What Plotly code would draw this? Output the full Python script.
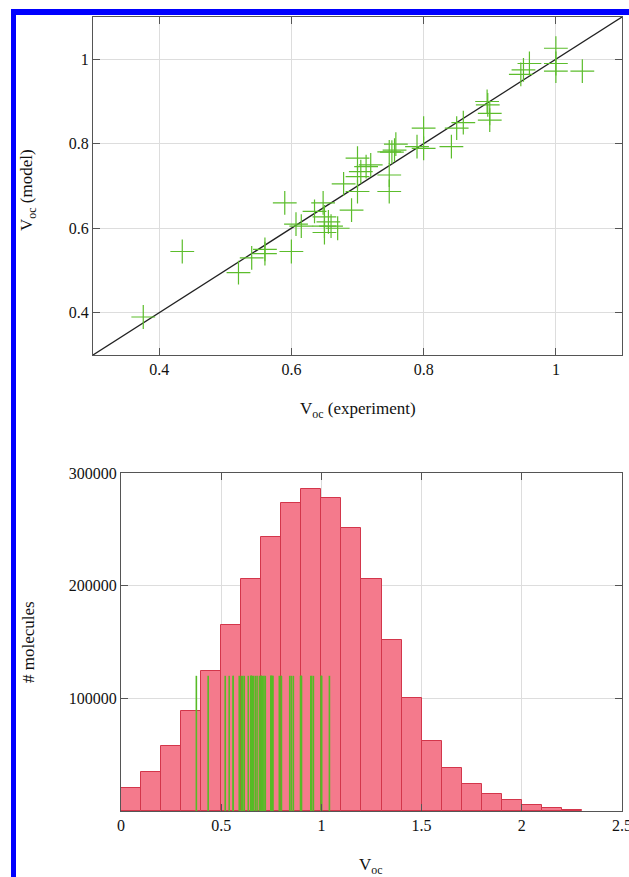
import plotly.graph_objects as go

# ---------------- data ----------------
# Top panel: V_oc experiment vs model
voc_exp = [0.376, 0.435, 0.52, 0.54, 0.56, 0.56, 0.59, 0.60, 0.607, 0.615,
           0.635, 0.648, 0.65, 0.65, 0.65, 0.656, 0.66, 0.67, 0.679, 0.691,
           0.70, 0.70, 0.70, 0.705, 0.713, 0.72, 0.748, 0.752, 0.748, 0.748,
           0.756, 0.758, 0.79, 0.80, 0.80, 0.842, 0.85, 0.86, 0.897, 0.90,
           0.90, 0.896, 0.947, 0.951, 0.96, 1.0, 1.0, 1.0, 1.04]
voc_model = [0.39, 0.545, 0.495, 0.53, 0.55, 0.54, 0.66, 0.545, 0.61, 0.605,
             0.64, 0.66, 0.627, 0.605, 0.59, 0.615, 0.605, 0.60, 0.705, 0.643,
             0.766, 0.722, 0.687, 0.734, 0.746, 0.75, 0.781, 0.78, 0.726, 0.687,
             0.785, 0.799, 0.793, 0.837, 0.789, 0.793, 0.837, 0.85, 0.892, 0.872,
             0.856, 0.90, 0.964, 0.975, 0.99, 1.026, 0.99, 0.972, 0.972]
diag = [0.3, 1.1]

# Bottom panel: histogram of predicted V_oc
bin_centers = [0.05, 0.15, 0.25, 0.35, 0.45, 0.55, 0.65, 0.75, 0.85, 0.95,
               1.05, 1.15, 1.25, 1.35, 1.45, 1.55, 1.65, 1.75, 1.85, 1.95,
               2.05, 2.15, 2.25]
counts = [20000, 35000, 58000, 88500, 124000, 165000, 206000, 243000, 273000, 285500,
          278000, 251000, 206000, 152000, 100000, 62000, 38000, 24000, 14800, 9500,
          5300, 2700, 1200]
impulse_height = 120000

top_xticks = [0.4, 0.6, 0.8, 1.0]
top_xtext = ["0.4", "0.6", "0.8", "1"]
top_yticks = [0.4, 0.6, 0.8, 1.0]
top_ytext = ["0.4", "0.6", "0.8", "1"]
bot_xticks = [0, 0.5, 1, 1.5, 2, 2.5]
bot_xtext = ["0", "0.5", "1", "1.5", "2", "2.5"]
bot_yticks = [100000, 200000, 300000]
bot_ytext = ["100000", "200000", "300000"]

# ---------------- figure ----------------
W, H = 629, 877
FONT = "Liberation Serif"
GREEN = "#5cbd2c"
TXT = "#111111"

fig = go.Figure()

fig.add_trace(go.Scatter(x=diag, y=diag, mode="lines",
                         line=dict(color="#222222", width=1.3),
                         xaxis="x", yaxis="y", showlegend=False))
fig.add_trace(go.Scatter(x=voc_exp, y=voc_model, mode="markers",
                         marker=dict(symbol="cross-thin", size=17,
                                     line=dict(color=GREEN, width=1.2)),
                         xaxis="x", yaxis="y", showlegend=False))

fig.add_trace(go.Bar(x=bin_centers, y=counts, width=0.1,
                     marker=dict(color="#f47a8c", line=dict(color="#d3364b", width=1)),
                     xaxis="x2", yaxis="y2", showlegend=False))

ix, iy = [], []
for v in voc_exp:
    ix += [v, v, None]
    iy += [0, impulse_height, None]
fig.add_trace(go.Scatter(x=ix, y=iy, mode="lines",
                         line=dict(color="#56bb26", width=1.6),
                         xaxis="x2", yaxis="y2", showlegend=False))

def px_x(p):
    return p / W

def px_y(p):
    return 1 - p / H

axis_common = dict(showline=True, linecolor="#555555", linewidth=1, mirror="ticks",
                   ticks="inside", ticklen=7, tickcolor="#555555",
                   showgrid=True, gridcolor="#dddddd", gridwidth=1, zeroline=False,
                   automargin=False, ticklabeloverflow="allow",
                   tickfont=dict(family=FONT, size=16, color=TXT))
title_font = dict(family=FONT, size=17, color=TXT)

def label(text, x, y, angle=0):
    return dict(text=text, xref="paper", yref="paper", x=px_x(x), y=px_y(y),
                xanchor="center", yanchor="middle", showarrow=False,
                textangle=angle, font=title_font)

fig.update_layout(
    width=W, height=H, margin=dict(l=0, r=0, t=0, b=0),
    paper_bgcolor="white", plot_bgcolor="white", bargap=0,
    xaxis=dict(domain=[px_x(93), px_x(622)], range=[0.3, 1.1], anchor="y",
               tickvals=top_xticks, ticktext=top_xtext, **axis_common),
    yaxis=dict(domain=[px_y(355), px_y(17)], range=[0.3, 1.1], anchor="x",
               tickvals=top_yticks, ticktext=top_ytext, **axis_common),
    xaxis2=dict(domain=[px_x(121), px_x(622)], range=[0, 2.5], anchor="y2",
                tickvals=bot_xticks, ticktext=bot_xtext, **axis_common),
    yaxis2=dict(domain=[px_y(811), px_y(473)], range=[0, 300000], anchor="x2",
                tickvals=bot_yticks, ticktext=bot_ytext, **axis_common),
    shapes=[
        dict(type="rect", xref="paper", yref="paper",
             x0=px_x(11), x1=px_x(16), y0=0, y1=px_y(9),
             fillcolor="#0000ff", line=dict(width=0)),
        dict(type="rect", xref="paper", yref="paper",
             x0=px_x(11), x1=1, y0=px_y(15), y1=px_y(9),
             fillcolor="#0000ff", line=dict(width=0)),
    ],
    annotations=[
        label("V<sub>oc</sub> (experiment)", 358, 410),
        label("V<sub>oc</sub> (model)", 28, 190, -90),
        label("# molecules", 28, 642, -90),
        label("V<sub>oc</sub>", 371, 866),
    ],
)

fig.write_html("out.html", config={"displayModeBar": False},
               post_script="document.body.style.margin='0';document.body.style.overflow='hidden';")
